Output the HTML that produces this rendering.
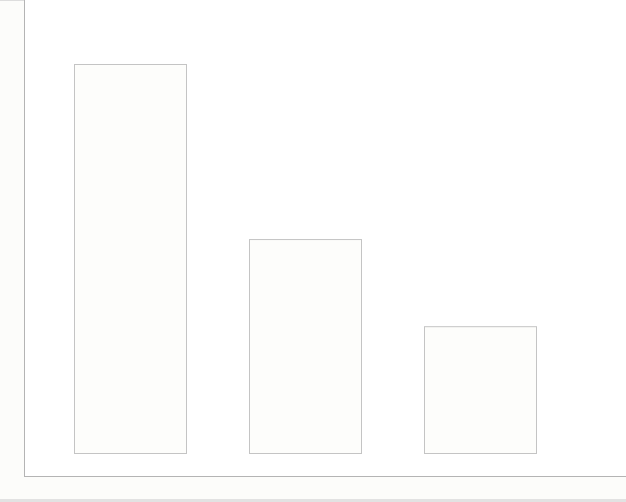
<!DOCTYPE html>
<html><head><meta charset="utf-8"><style>
html,body{margin:0;padding:0;background:#fcfcfa;}
svg{display:block;}
</style></head><body>
<svg id="chart" width="626" height="502" viewBox="0 0 626 502" xmlns="http://www.w3.org/2000/svg">
<rect x="0" y="0" width="626" height="502" fill="#fcfcfa"/>
<rect x="24" y="0" width="602" height="476" fill="#ffffff"/>
<line x1="0" y1="0.5" x2="24" y2="0.5" stroke="#dddddd"/>
<line x1="24.5" y1="0" x2="24.5" y2="476" stroke="#b4b4b4"/>
<line x1="24" y1="476.5" x2="626" y2="476.5" stroke="#b4b4b4"/>
<rect x="0" y="499" width="626" height="3" fill="#e2e2e2"/>
<g id="bars"></g>
</svg>
<script>
const categories = ["A", "B", "C"];
const values = [100, 55, 32.6];
const yMax = 100;
const plotBottom = 453, plotTop = 64;
const bandStart = 74, bandStep = 175, barWidth = 112;
function y(v){ return plotBottom - (v / yMax) * (plotBottom - plotTop); }
function x(i){ return bandStart + i * bandStep; }
const g = document.getElementById('bars');
const NS = 'http://www.w3.org/2000/svg';
categories.forEach((c, i) => {
  const top = y(values[i]);
  const r = document.createElementNS(NS, 'rect');
  
  
  r.setAttribute('x', x(i) + 0.5);
  r.setAttribute('y', top + 0.5);
  r.setAttribute('width', barWidth);
  r.setAttribute('height', plotBottom - top);
  r.setAttribute('fill', '#fdfdfb');
  r.setAttribute('stroke', '#c4c4c4');
  g.appendChild(r);
});
</script>
</body></html>
